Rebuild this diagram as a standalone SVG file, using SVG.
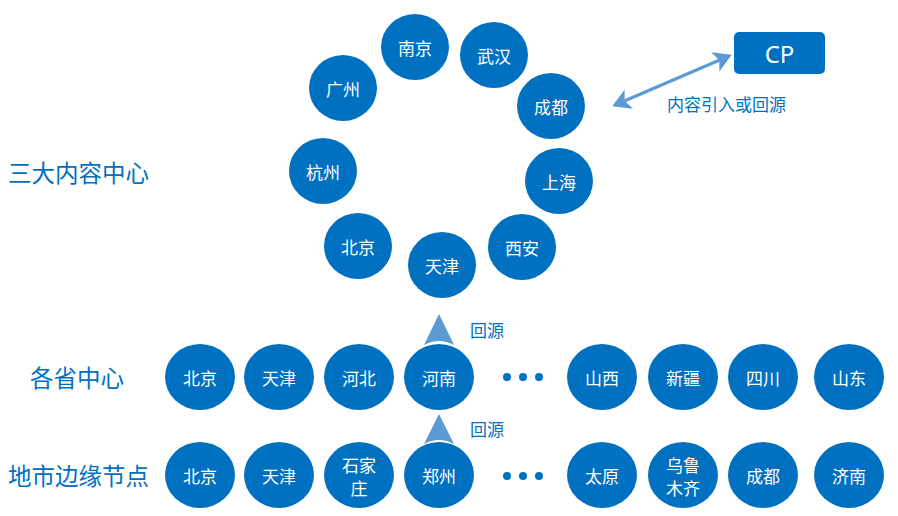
<svg xmlns="http://www.w3.org/2000/svg" width="898" height="516" viewBox="0 0 898 516">
<style>
.n ellipse{fill:#0070c0}
.n text{fill:#fff;font-family:"Noto Sans CJK SC","Noto Sans",sans-serif;font-size:17px;text-anchor:middle;dominant-baseline:central}
.lbl{fill:#0070c0;font-family:"Noto Sans CJK SC","Noto Sans",sans-serif;font-size:23.5px;dominant-baseline:central}
.sm{fill:#0070c0;font-family:"Noto Sans CJK SC","Noto Sans",sans-serif;font-size:17px;dominant-baseline:central}
.dot{fill:#0070c0}
.up{fill:#5b9bd5}
</style>
<defs>
<marker id="ah" markerWidth="8" markerHeight="8" refX="5" refY="4" orient="auto-start-reverse" markerUnits="strokeWidth">
<path d="M0,0.5 L6,4 L0,7.5 L1.5,4 Z" fill="#5b9bd5"/>
</marker>
</defs>
<rect width="898" height="516" fill="#fff"/>
<text class="lbl" x="8" y="172">三大内容中心</text>
<text class="lbl" x="30" y="377">各省中心</text>
<text class="lbl" x="8" y="475">地市边缘节点</text>

<g id="c-nanjing" class="n"><ellipse cx="415" cy="47" rx="34" ry="33"/><text x="415" y="47">南京</text></g>
<g id="c-wuhan" class="n"><ellipse cx="494" cy="55" rx="34" ry="33"/><text x="494" y="55">武汉</text></g>
<g id="c-chengdu" class="n"><ellipse cx="551" cy="106" rx="34" ry="33"/><text x="551" y="106">成都</text></g>
<g id="c-shanghai" class="n"><ellipse cx="559" cy="181" rx="34" ry="33"/><text x="559" y="181">上海</text></g>
<g id="c-xian" class="n"><ellipse cx="522" cy="247" rx="34" ry="33"/><text x="522" y="247">西安</text></g>
<g id="c-tianjin" class="n"><ellipse cx="442" cy="265" rx="34" ry="33"/><text x="442" y="265">天津</text></g>
<g id="c-beijing" class="n"><ellipse cx="358" cy="246" rx="34" ry="33"/><text x="358" y="246">北京</text></g>
<g id="c-hangzhou" class="n"><ellipse cx="323" cy="171" rx="34" ry="33"/><text x="323" y="171">杭州</text></g>
<g id="c-guangzhou" class="n"><ellipse cx="343" cy="88" rx="34" ry="33"/><text x="343" y="88">广州</text></g>

<g id="cp"><rect x="734" y="32" width="91" height="42" rx="5" fill="#0070c0"/><text x="779.5" y="53" fill="#fff" font-family="'Noto Sans','Liberation Sans',sans-serif" font-size="24" text-anchor="middle" dominant-baseline="central">CP</text></g>

<g id="p-beijing" class="n"><ellipse cx="200" cy="377" rx="35" ry="33"/><text x="200" y="377">北京</text></g>
<g id="p-tianjin" class="n"><ellipse cx="279" cy="377" rx="35" ry="33"/><text x="279" y="377">天津</text></g>
<g id="p-hebei" class="n"><ellipse cx="359" cy="377" rx="35" ry="33"/><text x="359" y="377">河北</text></g>
<g id="p-henan" class="n"><ellipse cx="439" cy="377" rx="35" ry="33"/><text x="439" y="377">河南</text></g>
<g id="p-shanxi" class="n"><ellipse cx="602" cy="377" rx="35" ry="33"/><text x="602" y="377">山西</text></g>
<g id="p-xinjiang" class="n"><ellipse cx="683" cy="377" rx="35" ry="33"/><text x="683" y="377">新疆</text></g>
<g id="p-sichuan" class="n"><ellipse cx="763" cy="377" rx="35" ry="33"/><text x="763" y="377">四川</text></g>
<g id="p-shandong" class="n"><ellipse cx="849" cy="377" rx="35" ry="33"/><text x="849" y="377">山东</text></g>

<g id="e-beijing" class="n"><ellipse cx="200" cy="475" rx="35" ry="33"/><text x="200" y="475">北京</text></g>
<g id="e-tianjin" class="n"><ellipse cx="279" cy="475" rx="35" ry="33"/><text x="279" y="475">天津</text></g>
<g id="e-shijiazhuang" class="n"><ellipse cx="359" cy="475" rx="35" ry="33"/><text x="359" y="464">石家</text><text x="359" y="487">庄</text></g>
<g id="e-zhengzhou" class="n"><ellipse cx="439" cy="475" rx="35" ry="33"/><text x="439" y="475">郑州</text></g>
<g id="e-taiyuan" class="n"><ellipse cx="602" cy="475" rx="35" ry="33"/><text x="602" y="475">太原</text></g>
<g id="e-urumqi" class="n"><ellipse cx="683" cy="475" rx="35" ry="33"/><text x="683" y="464">乌鲁</text><text x="683" y="487">木齐</text></g>
<g id="e-chengdu" class="n"><ellipse cx="763" cy="475" rx="35" ry="33"/><text x="763" y="475">成都</text></g>
<g id="e-jinan" class="n"><ellipse cx="849" cy="475" rx="35" ry="33"/><text x="849" y="475">济南</text></g>

<g id="dots">
<circle class="dot" cx="507" cy="377" r="4"/><circle class="dot" cx="523" cy="377" r="4"/><circle class="dot" cx="539" cy="377" r="4"/>
<circle class="dot" cx="507" cy="476" r="4"/><circle class="dot" cx="523" cy="476" r="4"/><circle class="dot" cx="539" cy="476" r="4"/>
</g>

<g id="connectors">
<line x1="615" y1="105" x2="729" y2="56" stroke="#5b9bd5" stroke-width="3" marker-start="url(#ah)" marker-end="url(#ah)"/>
<path class="up" d="M439,314 L454,345 Q439,337 424,345 Z"/>
<path class="up" d="M439,414 L454,444 Q439,436 424,444 Z"/>
</g>
<text class="sm" x="667" y="103">内容引入或回源</text>
<text class="sm" x="470" y="329">回源</text>
<text class="sm" x="470" y="428">回源</text>
</svg>
